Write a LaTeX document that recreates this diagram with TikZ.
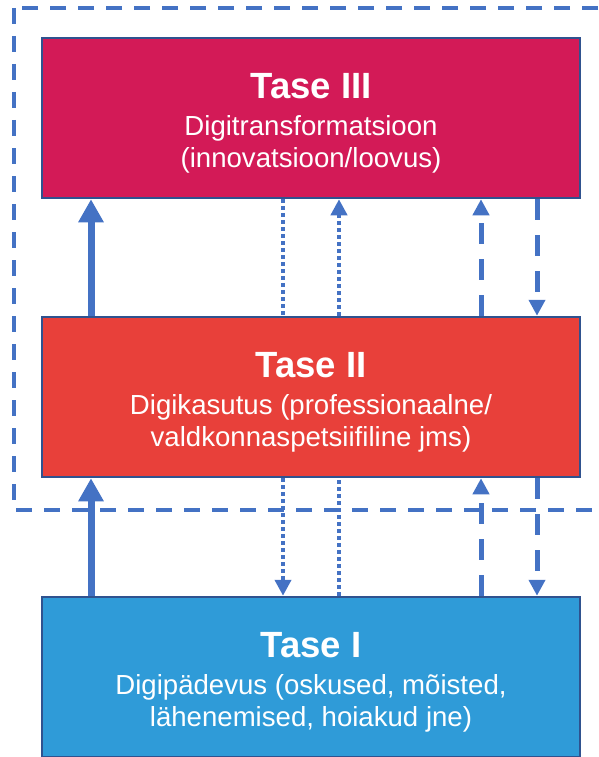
\documentclass[tikz,border=0pt]{standalone}
\usepackage{fontspec}
\setmainfont{Liberation Sans}
\usepackage{xcolor}
\usetikzlibrary{arrows.meta, positioning}
\definecolor{tasekolm}{HTML}{D31A57}
\definecolor{tasekaks}{HTML}{E8403A}
\definecolor{taseyks}{HTML}{2F9BD8}
\definecolor{serv}{HTML}{2F528F}
\definecolor{joon}{HTML}{4472C4}
\newcommand{\tasenimi}[1]{{\fontsize{36.5}{36}\selectfont\bfseries #1}}
\tikzset{
  tase/.style={rectangle, draw=serv, line width=2.5pt, text=white,
    minimum width=538pt, minimum height=160pt, align=center,
    font=\fontsize{27.6}{32}\selectfont, text height=105pt},
  pidevnool/.style={-{Triangle[width=24pt, length=23pt]}, line width=7pt, color=joon},
  kriipsnool/.style={-{Triangle[width=16pt, length=16pt]}, line width=5pt,
    color=joon, dash pattern=on 21pt off 15pt},
  punktjoon/.style={line width=4pt, color=joon, dash pattern=on 4pt off 3pt},
  punktnool/.style={punktjoon, -{Triangle[width=16pt, length=16pt]}},
  raam/.style={line width=3.5pt, color=joon, dash pattern=on 16pt off 12pt}
}
\begin{document}
\begin{tikzpicture}[x=1pt, y=1pt]
  \useasboundingbox (0,0) rectangle (599,-757);
  \clip (0,0) rectangle (599,-757);
  % katkendlik raam ylemise kahe taseme ymber
  \draw[raam] (14,-8) rectangle (630,-510);

  \node[tase, fill=tasekolm] (tase3) at (311,-118)
    {\tasenimi{Tase III}\\[5pt] Digitransformatsioon\\ (innovatsioon/loovus)};
  \node[tase, fill=tasekaks, below=116.5pt of tase3] (tase2)
    {\tasenimi{Tase II}\\[5pt] Digikasutus (professionaalne/\\ valdkonnaspetsiifiline jms)};
  \node[tase, fill=taseyks, below=117.5pt of tase2] (tase1)
    {\tasenimi{Tase I}\\[5pt] Digipädevus (oskused, mõisted,\\ lähenemised, hoiakud jne)};

  % tase II -> tase III
  \draw[pidevnool] ([xshift=-220pt]tase2.north) -- ([xshift=-220pt]tase3.south);
  \draw[punktjoon] ([xshift=-28pt]tase3.south) -- ([xshift=-28pt]tase2.north);
  \draw[punktnool] ([xshift=28pt]tase2.north) -- ([xshift=28pt]tase3.south);
  \draw[kriipsnool] ([xshift=170pt]tase2.north) -- ([xshift=170pt]tase3.south);
  \draw[kriipsnool] ([xshift=226pt]tase3.south) -- ([xshift=226pt]tase2.north);

  % tase I -> tase II
  \draw[pidevnool] ([xshift=-220pt]tase1.north) -- ([xshift=-220pt]tase2.south);
  \draw[punktnool] ([xshift=-28pt]tase2.south) -- ([xshift=-28pt]tase1.north);
  \draw[punktjoon] ([xshift=28pt]tase1.north) -- ([xshift=28pt]tase2.south);
  \draw[kriipsnool] ([xshift=170pt]tase1.north) -- ([xshift=170pt]tase2.south);
  \draw[kriipsnool] ([xshift=226pt]tase2.south) -- ([xshift=226pt]tase1.north);
\end{tikzpicture}
\end{document}
